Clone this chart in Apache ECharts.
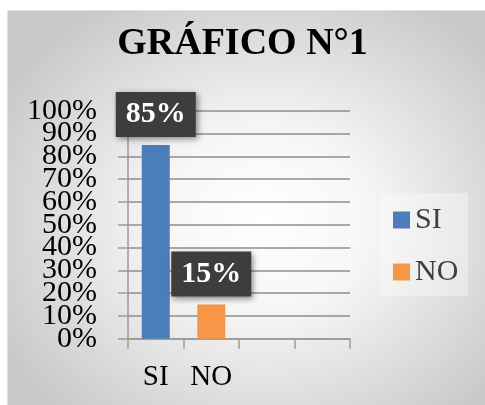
<!DOCTYPE html>
<html>
<head>
<meta charset="utf-8">
<script src="https://cdn.jsdelivr.net/npm/echarts@6/dist/echarts.min.js"></script>
<style>
html,body{margin:0;padding:0;background:#fff;}
#bg{position:absolute;left:7px;top:10px;width:478px;height:395px;border-top:1px solid #e2e2e2;border-left:1px solid #e2e2e2;box-sizing:border-box;
background:radial-gradient(ellipse 300px 260px at 255px 210px,#ffffff 0%,#f6f6f6 35%,#dddddd 70%,#c8c8c8 100%);}
#c{position:absolute;left:0;top:0;width:485px;height:405px;}
</style>
</head>
<body>
<div id="bg"></div>
<div id="c"></div>
<script>
const titleText = 'GRÁFICO N°1';
const categories = ['SI', 'NO', '', ''];
const seriesNames = ['SI', 'NO'];
const siValues = [85, '-', '-', '-'];
const noValues = ['-', 15, '-', '-'];
const yMin = 0, yMax = 100, yStep = 10;

const font = 'Liberation Serif, Times New Roman, serif';
const labelCfg = {
  show: true, position: 'top', distance: 8,
  formatter: '{c}%',
  color: '#fff', fontFamily: font, fontWeight: 'bold', fontSize: 30, lineHeight: 31,
  backgroundColor: '#3d3d3d', padding: [7, 10, 7, 10],
  shadowColor: 'rgba(0,0,0,0.45)', shadowBlur: 6, shadowOffsetX: 2, shadowOffsetY: 2
};

// y labels split over two stacked axes (even / odd steps) so none get auto-hidden
function yAxisFor(parity, main) {
  return {
    type: 'value', min: yMin, max: yMax, interval: yStep, position: 'left',
    axisLine: {show: main, lineStyle: {color: '#9a9a9a', width: 1.5}},
    axisTick: {show: main, length: 10, lineStyle: {color: '#9a9a9a', width: 1.5}},
    axisLabel: {
      formatter: v => (Math.round(v / yStep) % 2 === parity ? v + '%' : ''),
      fontFamily: font, fontSize: 30, color: '#000', margin: 31,
      hideOverlap: false, showMinLabel: true, showMaxLabel: true
    },
    splitLine: {show: main, lineStyle: {color: '#8e8e8e', width: 1.5}}
  };
}

const chart = echarts.init(document.getElementById('c'), null, {renderer: 'canvas'});
chart.setOption({
  backgroundColor: 'transparent',
  animation: false,
  title: {
    text: titleText, left: 'center', top: 25, padding: 0,
    textStyle: {fontFamily: font, fontWeight: 'bold', fontSize: 38, color: '#000'}
  },
  legend: {
    orient: 'vertical', left: 380, top: 193,
    padding: [12, 10, 9, 13],
    backgroundColor: 'rgba(255,255,255,0.35)',
    itemWidth: 17, itemHeight: 17, itemGap: 22,
    icon: 'rect',
    data: seriesNames,
    textStyle: {fontFamily: font, fontSize: 30, color: '#404040', lineHeight: 30}
  },
  grid: {left: 128, right: 135, top: 110.7, bottom: 66.3, containLabel: false},
  xAxis: {
    type: 'category', data: categories,
    axisLine: {show: true, lineStyle: {color: '#9a9a9a', width: 1.5}},
    axisTick: {show: true, length: 10, lineStyle: {color: '#9a9a9a', width: 1.5}},
    axisLabel: {fontFamily: font, fontSize: 29, color: '#000', margin: 24, interval: 0}
  },
  yAxis: [yAxisFor(0, true), yAxisFor(1, false)],
  series: [
    {name: seriesNames[0], type: 'bar', data: siValues, barWidth: 28, barGap: '-100%',
     itemStyle: {color: '#4a7ebb'}, label: labelCfg},
    {name: seriesNames[1], type: 'bar', data: noValues, barWidth: 28, barGap: '-100%',
     itemStyle: {color: '#f79646'}, label: labelCfg}
  ]
});
</script>
</body>
</html>
